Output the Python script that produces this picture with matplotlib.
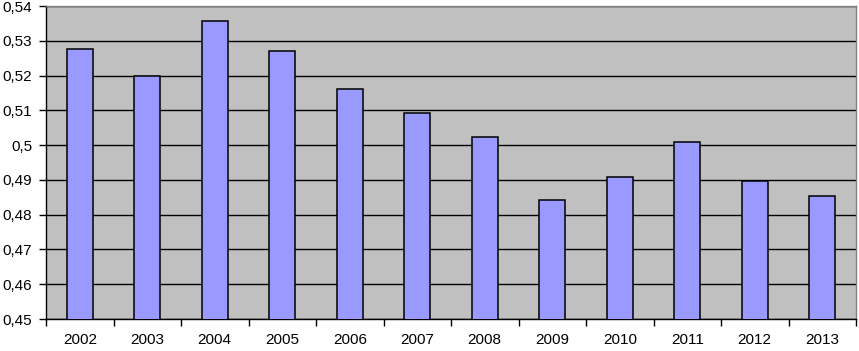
import numpy as np
import matplotlib.pyplot as plt
from matplotlib.ticker import FuncFormatter, MultipleLocator

# values
years = ['2002', '2003', '2004', '2005', '2006', '2007',
         '2008', '2009', '2010', '2011', '2012', '2013']
values = [0.5275, 0.5198, 0.5358, 0.5271, 0.5161, 0.5092,
          0.5024, 0.4842, 0.4909, 0.5009, 0.4896, 0.4853]

plt.rcParams['font.family'] = ['Liberation Sans', 'DejaVu Sans']

fig = plt.figure(figsize=(8.59, 3.51), dpi=100)
ax = fig.add_axes([46 / 859, 32 / 351, 810 / 859, 313 / 351])
ax.set_facecolor('#C0C0C0')

x = np.arange(len(years))
ax.bar(x, values, width=0.39, color='#9999FF', edgecolor='black', linewidth=1.1, zorder=3)

ax.set_xlim(-0.5, len(years) - 0.5)
ax.set_ylim(0.45, 0.54)
ax.yaxis.set_major_locator(MultipleLocator(0.01))
ax.yaxis.set_major_formatter(FuncFormatter(lambda v, p: ('%.2f' % v).rstrip('0').replace('.', ',')))
ax.grid(axis='y', color='black', linewidth=1.0, zorder=1)

ax.set_xticks(x)
ax.set_xticklabels(years)
ax.set_xticks(np.arange(-0.5, len(years)), minor=True)
ax.tick_params(axis='x', which='major', length=0, pad=10, labelsize=11)
ax.tick_params(axis='x', which='minor', length=5, width=1, direction='out')
ax.tick_params(axis='y', length=5, width=1, direction='out', pad=5, labelsize=11)

for s in ['left', 'bottom']:
    ax.spines[s].set_color('black')
    ax.spines[s].set_linewidth(1.0)
for s in ['top', 'right']:
    ax.spines[s].set_color('#808080')
    ax.spines[s].set_linewidth(1.0)

plt.savefig('out.png', dpi=100)
